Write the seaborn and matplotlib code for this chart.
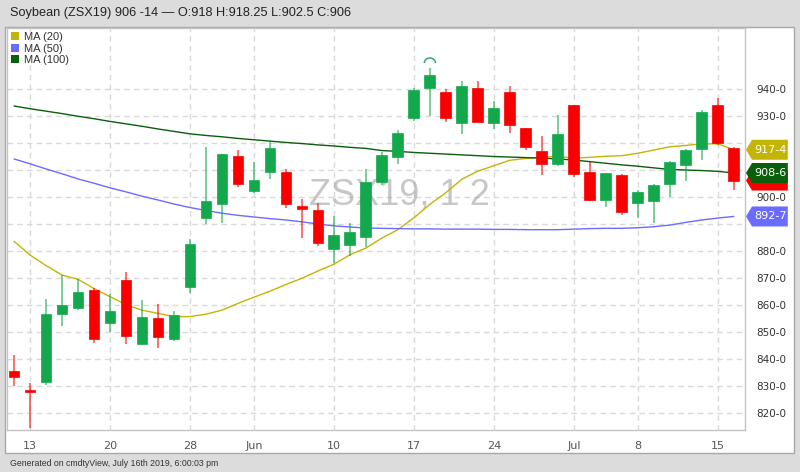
import matplotlib
matplotlib.use("Agg")
import matplotlib.pyplot as plt
from matplotlib.patches import Arc, Patch, Polygon, Rectangle
import pandas as pd
import seaborn as sns

# trading days shown (May 27 and Jul 4 are holidays)
dates = pd.bdate_range("2019-05-10", "2019-07-16", freq="C",
                       holidays=["2019-05-27", "2019-07-04"])

opens = [835.6, 828.6, 831.2, 856.7, 858.9, 865.3, 853.3, 869.0, 845.4, 855.0,
         847.4, 866.4, 892.0, 897.2, 915.0, 902.2, 909.3, 909.0, 896.7, 895.0,
         880.7, 882.3, 885.2, 905.3, 914.6, 929.0, 940.4, 938.9, 927.2, 940.1,
         927.4, 938.9, 925.3, 917.0, 912.1, 934.0, 909.3, 898.8, 908.0, 897.8,
         898.4, 904.7, 911.7, 917.5, 934.0, 918.0]
highs = [841.4, 831.1, 862.3, 871.0, 869.5, 866.3, 863.8, 872.2, 861.7, 860.2,
         857.8, 884.2, 918.5, 916.0, 917.3, 913.0, 921.0, 910.1, 899.0, 897.5,
         892.8, 890.4, 910.1, 916.5, 924.7, 940.1, 947.8, 939.9, 942.8, 942.8,
         935.6, 941.1, 925.6, 922.6, 930.2, 934.0, 913.0, 908.9, 908.4, 902.5,
         904.7, 913.3, 917.5, 932.1, 936.4, 918.25]
lows = [830.0, 814.2, 830.2, 852.2, 858.0, 846.0, 850.0, 845.4, 845.3, 843.8,
        846.7, 864.4, 889.9, 890.1, 903.7, 901.2, 906.4, 896.0, 884.8, 881.7,
        875.3, 878.0, 881.2, 904.5, 912.0, 928.1, 930.0, 927.8, 923.1, 927.5,
        925.0, 923.5, 917.3, 908.0, 911.4, 907.2, 898.5, 896.3, 893.2, 892.0,
        890.1, 899.8, 905.9, 913.6, 919.1, 902.5]
closes = [833.3, 827.5, 856.5, 859.8, 864.8, 847.2, 857.8, 848.5, 855.3, 848.1,
          856.3, 882.5, 898.5, 915.7, 904.9, 906.2, 918.0, 897.3, 895.3, 883.0,
          885.8, 887.0, 905.6, 915.4, 923.5, 939.6, 945.2, 929.0, 941.1, 927.8,
          933.0, 926.5, 918.3, 912.3, 923.1, 908.6, 898.8, 908.9, 894.4, 901.7,
          904.2, 912.7, 917.3, 931.5, 920.0, 906.0]

ma20 = [883.5, 878.4, 874.5, 871.0, 869.4, 866.0, 863.0, 860.0, 858.0, 856.8,
        855.6, 855.6, 856.5, 858.0, 860.5, 862.8, 865.0, 867.5, 869.8, 872.5,
        875.0, 878.5, 881.0, 884.7, 887.8, 892.2, 897.2, 901.5, 906.5, 909.5,
        911.5, 913.5, 914.2, 914.6, 915.0, 914.3, 914.6, 915.0, 915.2, 916.1,
        917.3, 918.5, 919.0, 919.6, 919.6, 917.4]
ma50 = [914.0, 912.2, 910.3, 908.5, 906.6, 905.0, 903.3, 901.8, 900.2, 898.8,
        897.3, 896.0, 894.9, 893.9, 893.1, 892.5, 891.9, 891.4, 890.7, 889.9,
        889.2, 888.8, 888.4, 888.3, 888.2, 888.1, 888.1, 888.0, 888.0, 888.0,
        887.9, 887.9, 887.8, 887.8, 887.8, 888.0, 888.2, 888.3, 888.3, 888.5,
        888.9, 889.5, 890.5, 891.4, 892.1, 892.7]
ma100 = [933.6, 932.6, 931.7, 930.8, 929.8, 928.9, 927.9, 927.0, 926.1, 925.1,
         924.2, 923.3, 922.7, 922.2, 921.6, 921.1, 920.6, 920.1, 919.7, 919.2,
         918.8, 918.3, 917.9, 917.1, 916.8, 916.4, 916.1, 915.8, 915.5, 915.2,
         914.9, 914.7, 914.5, 914.3, 914.0, 913.6, 913.0, 912.4, 911.8, 911.3,
         910.7, 910.1, 909.9, 909.7, 909.4, 908.8]

tick_dates = ["2019-05-13", "2019-05-20", "2019-05-28", "2019-06-03", "2019-06-10",
              "2019-06-17", "2019-06-24", "2019-07-01", "2019-07-08", "2019-07-15"]
tick_labels = ["13", "20", "28", "Jun", "10", "17", "24", "Jul", "8", "15"]
price_ticks = [820, 830, 840, 850, 860, 870, 880, 890, 900, 910, 920, 930, 940]
hidden_ticks = [890, 910, 920]  # covered by the value tags

title = "Soybean (ZSX19) 906 -14 \u2014 O:918 H:918.25 L:902.5 C:906"
footer = "Generated on cmdtyView, July 16th 2019, 6:00:03 pm"
watermark = "ZSX19, 1 2"
ma_names = ["MA (20)", "MA (50)", "MA (100)"]
ma_tags = ["917-4", "892-7", "908-6"]

UP, DOWN = "#12a84b", "#f80000"
MA_COLORS = ["#c4b404", "#6b6bff", "#0b5e0b"]

sns.set_style("white")
plt.rcParams["font.family"] = ["DejaVu Sans"]

df = pd.DataFrame({"date": dates, "open": opens, "high": highs, "low": lows,
                   "close": closes, "ma20": ma20, "ma50": ma50, "ma100": ma100})
df["i"] = range(len(df))
df["up"] = df["close"] >= df["open"]

fig = plt.figure(figsize=(8, 4.72), dpi=100, facecolor="#dcdcdc")
W, H = 800, 472
fig.patches.append(Rectangle((5 / W, 1 - 453 / H), 789 / W, 426 / H,
                             transform=fig.transFigure, facecolor="white",
                             edgecolor="#a8a8a8", linewidth=1, zorder=-1))
ax = fig.add_axes([7 / W, 1 - 430 / H, 738 / W, 402 / H])
ax.set_facecolor("none")
ax.set_axisbelow(True)

# moving averages
for col, color in zip(["ma20", "ma50", "ma100"], MA_COLORS):
    sns.lineplot(data=df, x="i", y=col, ax=ax, color=color, linewidth=1,
                 zorder=2, legend=False)

# candles
for up, color in [(True, UP), (False, DOWN)]:
    d = df[df["up"] == up]
    ax.vlines(d["i"], d["low"], d["high"], color=color, linewidth=1.3,
              alpha=0.6, zorder=3)
    body_lo = d[["open", "close"]].min(axis=1)
    body_h = (d["close"] - d["open"]).abs().clip(lower=0.6)
    ax.bar(d["i"], body_h, bottom=body_lo, width=0.68, color=color,
           edgecolor=color, linewidth=0.5, zorder=4)

# high marker over the top candle
top = df.loc[df["high"].idxmax()]
ax.add_patch(Arc((top["i"], top["high"] + 1.7), 0.7, 3.8, theta1=0, theta2=180,
                 color="#3f9f78", linewidth=1.1, zorder=4))

ax.set_xlim(-0.44, 45.7)
ax.set_ylim(813.6, 962.5)

pos = [df.index[df["date"] == pd.Timestamp(t)][0] for t in tick_dates]
ax.set_xticks(pos)
ax.set_xticklabels(tick_labels, fontsize=8, color="#555555")
ax.yaxis.tick_right()
ax.set_yticks(price_ticks)
ax.set_yticklabels(["" if v in hidden_ticks else f"{v}-0" for v in price_ticks],
                   fontsize=7.5, color="#333333")
ax.tick_params(axis="both", length=0)
ax.tick_params(axis="y", pad=8)
ax.tick_params(axis="x", pad=8)
ax.grid(True, color="#d9d9d9", linestyle=(0, (4, 3)), linewidth=1)
ax.set_xlabel("")
ax.set_ylabel("")
for s in ax.spines.values():
    s.set_color("#c4c4c4")
    s.set_linewidth(1)

ax.text(0.532, 0.585, watermark, transform=ax.transAxes, fontsize=26,
        family="Liberation Sans", color="#9a9a9a", alpha=0.55,
        ha="center", va="center", zorder=1)

# right-hand value tags
tr = ax.get_yaxis_transform()
hh = 3.7
def tag(y, text, color):
    pts = [(1.0014, y), (1.0095, y + hh), (1.058, y + hh), (1.058, y - hh), (1.0095, y - hh)]
    ax.add_patch(Polygon(pts, closed=True, transform=tr, facecolor=color,
                         edgecolor="none", clip_on=False, zorder=6))
    if text:
        ax.text(1.034, y, text, transform=tr, fontsize=8, color="white",
                ha="center", va="center", clip_on=False, zorder=7)

tag(closes[-1], "", DOWN)
tag(ma20[-1], ma_tags[0], MA_COLORS[0])
tag(ma100[-1], ma_tags[2], MA_COLORS[2])
tag(ma50[-1], ma_tags[1], MA_COLORS[1])

handles = [Patch(facecolor=c, edgecolor="none", label=n) for n, c in zip(ma_names, MA_COLORS)]
leg = ax.legend(handles=handles, loc="upper left", bbox_to_anchor=(0.002, 0.995),
                frameon=False, fontsize=8, handlelength=0.75, handleheight=0.75,
                handletextpad=0.45, labelspacing=0.12, borderpad=0.2, borderaxespad=0)
for t in leg.get_texts():
    t.set_family("Liberation Sans")
    t.set_color("#333333")

fig.text(10 / W, 1 - 13 / H, title, fontsize=9.2, family="Liberation Sans",
         color="#222222", ha="left", va="center")
fig.text(10 / W, 1 - 463 / H, footer, fontsize=6.3, family="Liberation Sans",
         color="#333333", ha="left", va="center")

fig.savefig("out.png", dpi=100, facecolor=fig.get_facecolor())
